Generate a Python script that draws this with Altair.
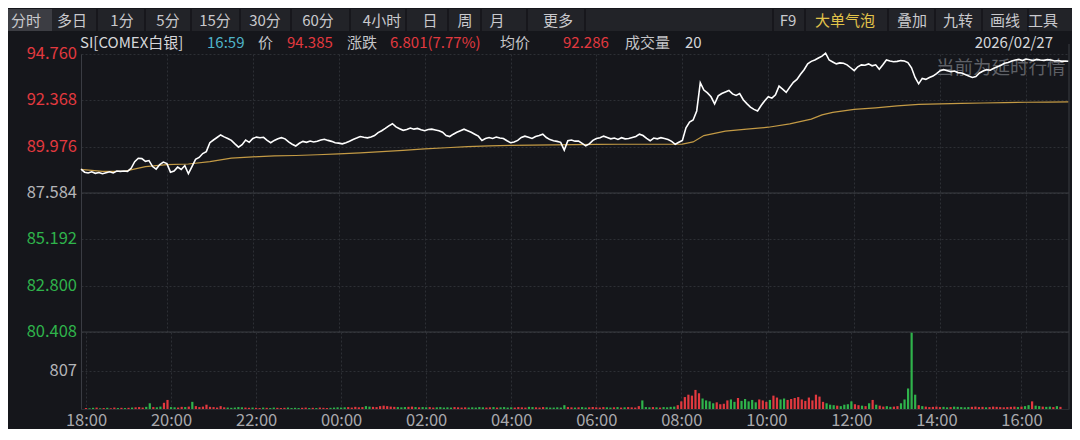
import altair as alt
import pandas as pd

# ---------------- data ----------------
# price every 5 minutes from 18:00, last value at 16:59
PRICE = [
    88.82, 88.66, 88.62, 88.68, 88.60, 88.64, 88.58, 88.63, 88.68, 88.62, 88.72, 88.70,
    88.72, 88.70, 88.86, 89.20, 89.38, 89.36, 89.22, 89.26, 88.95, 88.82, 89.05, 89.18,
    89.10, 88.66, 88.72, 88.92, 88.80, 89.00, 88.58, 88.95, 89.32, 89.42, 89.62, 89.72,
    90.18, 90.32, 90.45, 90.58, 90.48, 90.40, 90.30, 90.12, 89.95, 90.08, 90.32, 90.20,
    90.40, 90.47, 90.44, 90.46, 90.30, 90.18, 90.30, 90.38, 90.44, 90.38, 90.22, 90.10,
    90.01, 90.15, 90.25, 90.20, 90.27, 90.22, 90.26, 90.32, 90.36, 90.30, 90.25, 90.18,
    90.16, 90.12, 90.18, 90.26, 90.35, 90.42, 90.50, 90.46, 90.43, 90.48, 90.55, 90.70,
    90.80, 90.92, 91.05, 91.16, 91.00, 90.90, 90.82, 90.86, 90.94, 90.88, 90.92, 90.85,
    90.80, 90.86, 90.88, 90.84, 90.80, 90.72, 90.55, 90.50, 90.62, 90.72, 90.80, 90.88,
    90.80, 90.72, 90.62, 90.52, 90.30, 90.40, 90.45, 90.40, 90.47, 90.42, 90.40, 90.28,
    90.18, 90.22, 90.30, 90.45, 90.52, 90.46, 90.40, 90.50, 90.55, 90.62, 90.45, 90.34,
    90.28, 90.25, 90.20, 89.80, 90.28, 90.32, 90.26, 90.27, 90.15, 90.02, 90.12, 90.30,
    90.40, 90.44, 90.52, 90.45, 90.38, 90.42, 90.35, 90.44, 90.38, 90.40, 90.45, 90.50,
    90.62, 90.55, 90.40, 90.28, 90.42, 90.38, 90.44, 90.40, 90.35, 90.25, 90.10, 90.20,
    90.30, 90.95, 91.25, 91.35, 91.82, 93.28, 92.90, 92.75, 92.55, 92.18, 92.60, 92.72,
    92.80, 92.88, 92.70, 92.62, 92.72, 92.40, 92.20, 92.02, 91.90, 91.82, 92.10, 92.35,
    92.55, 92.48, 92.65, 93.10, 92.95, 92.78, 93.05, 93.30, 93.45, 93.71, 93.95, 94.25,
    94.38, 94.45, 94.55, 94.65, 94.80, 94.45, 94.35, 94.25, 94.30, 94.28, 94.20, 94.05,
    93.90, 94.10, 94.20, 94.18, 94.25, 94.15, 94.20, 93.97, 94.20, 94.45, 94.40, 94.36,
    94.38, 94.42, 94.40, 94.32, 94.05, 93.55, 93.22, 93.50, 93.45, 93.55, 93.62, 93.75,
    93.90, 93.95, 93.90, 93.85, 93.88, 93.80, 93.78, 93.70, 93.62, 93.55, 93.60, 93.78,
    93.88, 93.95, 93.92, 94.02, 94.10, 94.18, 94.28, 94.32, 94.40, 94.45, 94.48, 94.42,
    94.50, 94.46, 94.42, 94.48, 94.45, 94.43, 94.47, 94.45, 94.40, 94.42, 94.38, 94.40,
    94.385,
]
AVG_MIN = [0, 30, 60, 90, 120, 150, 180, 210, 240, 270,
           300, 330, 360, 390, 420, 450, 480, 510, 540, 570,
           600, 630, 660, 690, 720, 750, 780, 810, 840, 855, 870,
           900, 930, 960, 990, 1020, 1035, 1050,
           1080, 1110, 1140, 1170, 1200, 1230, 1260, 1290, 1320, 1350, 1379]
AVG = [88.80, 88.70, 88.70, 88.95, 89.05, 89.08, 89.20, 89.38, 89.45, 89.50,
       89.52, 89.56, 89.60, 89.66, 89.72, 89.78, 89.86, 89.92, 89.98, 90.02,
       90.04, 90.06, 90.07, 90.08, 90.09, 90.10, 90.10, 90.10, 90.11, 90.22, 90.55,
       90.78, 90.88, 90.98, 91.15, 91.40, 91.62, 91.75,
       91.90, 91.98, 92.08, 92.16, 92.19, 92.21, 92.23, 92.25, 92.27, 92.28, 92.286]
VOLUME = [
    20, 15, 25, 30, 15, 20, 25, 15, 30, 20, 25, 20,
    25, 30, 35, 40, 30, 45, 120, 40, 35, 50, 130, 190,
    40, 35, 30, 45, 40, 50, 150, 60, 40, 50, 90, 45,
    40, 30, 60, 35, 30, 25, 30, 40, 35, 30, 25, 30,
    25, 20, 30, 25, 20, 30, 25, 20, 25, 30, 20, 25,
    20, 25, 30, 20, 25, 20, 30, 25, 20, 25, 30, 35,
    30, 35, 40, 30, 45, 35, 40, 60, 50, 45, 40, 60,
    70, 60, 50, 45, 40, 35, 40, 45, 50, 40, 35, 40,
    35, 40, 30, 35, 40, 30, 35, 30, 40, 35, 30, 35,
    30, 35, 30, 40, 35, 30, 35, 40, 30, 35, 40, 30,
    35, 30, 40, 35, 30, 45, 40, 35, 30, 40, 35, 30,
    30, 35, 30, 80, 40, 35, 30, 35, 40, 30, 35, 40,
    35, 30, 40, 35, 30, 35, 40, 30, 35, 40, 35, 30,
    60, 180, 40, 35, 40, 35, 30, 40, 35, 45, 50, 80,
    160, 250, 300, 280, 400, 330, 220, 180, 160, 120, 140, 100,
    110, 180, 200, 150, 230, 170, 210, 160, 190, 140, 200, 180,
    150, 190, 280, 240, 200, 220, 190, 210, 230, 250, 200, 170,
    240, 180, 300, 260, 150, 120, 90, 80, 70, 60, 90, 100,
    160, 100, 80, 70, 60, 120, 190, 90, 70, 50, 60, 45,
    50, 60, 120, 200, 430, 1600, 300, 80, 60, 50, 40, 45,
    50, 40, 45, 35, 40, 50, 45, 40, 35, 40, 45, 50,
    40, 45, 35, 40, 50, 45, 40, 35, 40, 45, 50, 40,
    50, 60, 80, 160, 70, 60, 50, 45, 50, 40, 60, 45,
]
PRICE_TICKS = [94.760, 92.368, 89.976, 87.584, 85.192, 82.800, 80.408]
PRICE_TICK_LABELS = ["94.760", "92.368", "89.976", "87.584", "85.192", "82.800", "80.408"]
PREV_CLOSE = 87.584
VOL_TICKS = [807]
VOL_MAX = 1614
TIME_LABELS = ["18:00", "20:00", "22:00", "00:00", "02:00", "04:00",
               "06:00", "08:00", "10:00", "12:00", "14:00", "16:00"]
SESSION_MIN = 1380
TOOLBAR_LEFT = ["分时", "多日", "1分", "5分", "15分", "30分", "60分", "4小时", "日", "周", "月", "更多"]
TOOLBAR_RIGHT = ["F9", "大单气泡", "叠加", "九转", "画线", "工具"]
INFO_TEXT = ["SI[COMEX白银]", "16:59", "价", "94.385", "涨跌", "6.801(7.77%)",
             "均价", "92.286", "成交量", "20"]
DATE_TEXT = "2026/02/27"
WATERMARK = "当前为延时行情"

# ---------------- layout / style ----------------
FONT = "Noto Sans CJK SC"
BG = "#15161b"
W, LEFT = 988, 73
HH, H1, H2 = 45, 278, 77
RED, GREEN, GRAY = "#e2393f", "#2fb34b", "#b4b4b8"
GRID = "#2d2f35"
EDGE = "#3a3c43"

STEP = 5
price_df = pd.DataFrame({"t": [i * STEP for i in range(len(PRICE) - 1)] + [SESSION_MIN - 1],
                         "p": PRICE})
avg_df = pd.DataFrame({"t": AVG_MIN, "p": AVG})
vol_colors = [RED] + [RED if PRICE[i] >= PRICE[i - 1] else GREEN for i in range(1, len(VOLUME))]
vol_df = pd.DataFrame({"t": [i * STEP for i in range(len(VOLUME))], "v": VOLUME, "c": vol_colors})

tick_colors = [RED if v > PREV_CLOSE + 1e-6 else (GREEN if v < PREV_CLOSE - 1e-6 else GRAY)
               for v in PRICE_TICKS]
ptick_df = pd.DataFrame({"v": PRICE_TICKS, "s": PRICE_TICK_LABELS, "c": tick_colors})
vtick_df = pd.DataFrame({"v": VOL_TICKS, "s": [str(v) for v in VOL_TICKS]})

grid_t = [i * 120 for i in range(len(TIME_LABELS))]
label_expr = "[" + ",".join("'%s'" % s for s in TIME_LABELS) + "][round(datum.value/120)]"

xscale = alt.Scale(domain=[0, SESSION_MIN], nice=False, zero=False)
pscale = alt.Scale(domain=[PRICE_TICKS[-1], PRICE_TICKS[0]], nice=False, zero=False)
vscale = alt.Scale(domain=[0, VOL_MAX], nice=False)

x_axis_top = alt.Axis(values=grid_t, grid=True, gridDash=[2, 2], gridColor=GRID, labels=False,
                      ticks=False, domain=False, title=None)
x_axis_bot = alt.Axis(values=grid_t, grid=True, gridDash=[2, 2], gridColor=GRID, labels=True,
                      labelExpr=label_expr, labelColor="#a9a9ad", labelFontSize=16.5, labelFont=FONT,
                      labelPadding=3, labelFlush=False, labelOverlap=False, ticks=False,
                      domain=True, domainColor="#2a2c31", title=None)
p_axis = alt.Axis(values=PRICE_TICKS, grid=True, gridDash=[2, 2], gridColor=GRID, labels=False,
                  ticks=False, domain=True, domainColor=EDGE, title=None)
v_axis = alt.Axis(values=VOL_TICKS, grid=True, gridDash=[2, 2], gridColor=GRID, labels=False,
                  ticks=False, domain=True, domainColor=EDGE, title=None)

one = pd.DataFrame({"k": [0]})

# ---------------- header ----------------
left_x = [26, 72, 122, 168, 215, 265, 318, 382, 430, 465, 497, 558]
right_x = [788, 845, 912, 958, 1005, 1043]
tb_rows = []
for lab, x in zip(TOOLBAR_LEFT, left_x):
    tb_rows.append({"s": lab, "x": x - 81, "c": "#c9c9cd"})
for lab, x in zip(TOOLBAR_RIGHT, right_x):
    tb_rows.append({"s": lab, "x": x - 81, "c": "#e2c34a" if lab == "大单气泡" else "#c9c9cd"})
tb_df = pd.DataFrame(tb_rows)

sep_x = [97, 145, 191, 240, 291, 350, 406, 448, 481, 527, 585, 773, 805, 888, 935, 982, 1028]
sep_df = pd.DataFrame({"x": [x - 81 for x in sep_x]})

info_x = [80, 207, 258, 287, 347, 390, 500, 563, 625, 685]
info_c = ["#d6d6da", "#4fb4c9", "#c4c4c8", RED, "#c4c4c8", RED, "#c4c4c8", RED, "#c4c4c8", "#d6d6da"]
info_df = pd.DataFrame({"s": INFO_TEXT, "x": [x - 81 for x in info_x], "c": info_c})

TB_Y, INFO_Y = 11.5, 33.5
hdr_bg = alt.Chart(one).mark_rect(color="#222328").encode(
    x=alt.value(-LEFT), x2=alt.value(W + 3), y=alt.value(0), y2=alt.value(22))
hdr_sel = alt.Chart(one).mark_rect(color="#3c3d43").encode(
    x=alt.value(-LEFT), x2=alt.value(52 - 81), y=alt.value(0), y2=alt.value(22))
hdr_sep = alt.Chart(sep_df).mark_rule(color="#141519", strokeWidth=1.5).encode(
    x=alt.X("x:Q", scale=None), y=alt.value(0), y2=alt.value(22))
hdr_txt = alt.Chart(tb_df).mark_text(font=FONT, fontSize=15, baseline="middle", align="center").encode(
    x=alt.X("x:Q", scale=None), y=alt.value(TB_Y), text="s:N", color=alt.Color("c:N", scale=None))
info_txt = alt.Chart(info_df).mark_text(font=FONT, fontSize=15, baseline="middle", align="left").encode(
    x=alt.X("x:Q", scale=None), y=alt.value(INFO_Y), text="s:N", color=alt.Color("c:N", scale=None))
date_txt = alt.Chart(one).mark_text(font=FONT, fontSize=15, baseline="middle", align="right",
                                    color="#d6d6da", text=DATE_TEXT).encode(
    x=alt.value(1053 - 81), y=alt.value(INFO_Y))
header = alt.layer(hdr_bg, hdr_sel, hdr_sep, hdr_txt, info_txt, date_txt).properties(width=W, height=HH)

# ---------------- price panel ----------------
px = alt.X("t:Q", scale=xscale, axis=x_axis_top)
grid_layer = alt.Chart(ptick_df).mark_rule(opacity=0).encode(
    x=alt.X("v:Q", scale=xscale, axis=x_axis_top),
    y=alt.Y("v:Q", scale=pscale, axis=p_axis))
solid_rules = alt.Chart(pd.DataFrame({"v": [PREV_CLOSE, PRICE_TICKS[-1]]})).mark_rule(
    color=EDGE, strokeWidth=1).encode(y=alt.Y("v:Q", scale=pscale, axis=p_axis))
right_edge = alt.Chart(one).mark_rule(color=EDGE).encode(
    x=alt.value(W), y=alt.value(-10), y2=alt.value(H1))
wm = alt.Chart(one).mark_text(font=FONT, fontSize=18.5, color="#5e6066", align="left",
                              baseline="middle", text=WATERMARK).encode(
    x=alt.value(936 - 81), y=alt.value(14))
avg_line = alt.Chart(avg_df).mark_line(color="#c39a45", strokeWidth=1.2).encode(
    x=px, y=alt.Y("p:Q", scale=pscale, axis=p_axis))
price_line = alt.Chart(price_df).mark_line(color="#ffffff", strokeWidth=1.6).encode(
    x=px, y=alt.Y("p:Q", scale=pscale, axis=p_axis))
ptick_txt = alt.Chart(ptick_df).mark_text(font=FONT, fontSize=16.5, align="right", baseline="middle").encode(
    x=alt.value(-4), y=alt.Y("v:Q", scale=pscale, axis=p_axis), text="s:N",
    color=alt.Color("c:N", scale=None))
price_panel = alt.layer(grid_layer, solid_rules, right_edge, wm, avg_line, price_line, ptick_txt
                        ).properties(width=W, height=H1)

# ---------------- volume panel ----------------
vx = alt.X("t:Q", scale=xscale, axis=x_axis_bot)
bars = alt.Chart(vol_df).mark_bar(width=2.2).encode(
    x=vx, y=alt.Y("v:Q", scale=vscale, axis=v_axis), color=alt.Color("c:N", scale=None))
v_right = alt.Chart(one).mark_rule(color=EDGE).encode(
    x=alt.value(W), y=alt.value(0), y2=alt.value(H2))
vtick_txt = alt.Chart(vtick_df).mark_text(font=FONT, fontSize=16.5, align="right", baseline="middle",
                                          color=GRAY).encode(
    x=alt.value(-4), y=alt.Y("v:Q", scale=vscale, axis=v_axis), text="s:N")
vol_panel = alt.layer(bars, v_right, vtick_txt).properties(width=W, height=H2)

chart = alt.vconcat(header, price_panel, vol_panel, spacing=0, bounds="flush").properties(
    background=BG, padding=0
).configure_view(stroke="transparent", strokeWidth=0)

chart.save("out.html", embed_options={"renderer": "svg", "actions": False})
